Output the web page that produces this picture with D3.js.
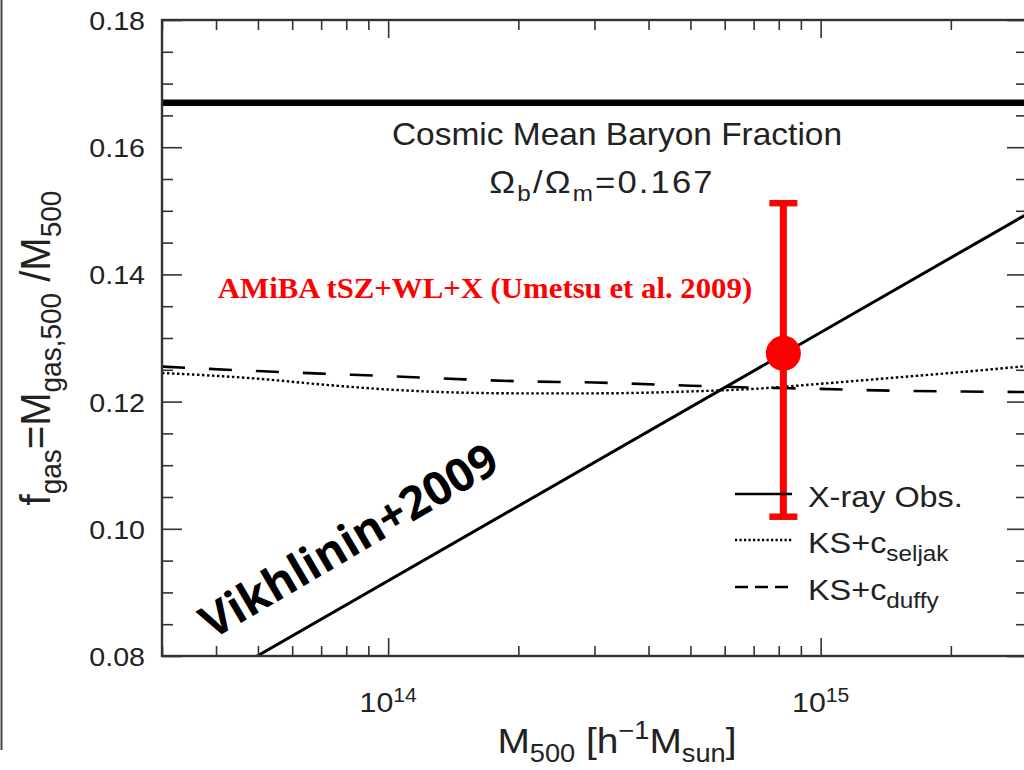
<!DOCTYPE html>
<html>
<head>
<meta charset="utf-8">
<script src="https://cdn.jsdelivr.net/npm/d3@7"></script>
<style>
  body { margin: 0; background: #fff; }
  svg { display: block; }
</style>
</head>
<body>
<svg id="chart" width="1024" height="770"></svg>
<script>
// ---- data -------------------------------------------------------------
// Halo mass grid (h^-1 Msun) for the two KS model curves
const massGrid   = [3e13, 5e13, 7e13, 1e14, 1.5e14, 2e14, 3e14, 5e14, 7e14, 1e15, 1.5e15, 2e15, 3e15];
// KS model with Seljak concentration (dotted)
const fgasSeljak = [0.1245, 0.1236, 0.1227, 0.1219, 0.1214, 0.1213, 0.1213, 0.1216, 0.1220, 0.1228, 0.1238, 0.1245, 0.1256];
// KS model with Duffy concentration (dashed)
const fgasDuffy  = [0.1255, 0.1248, 0.1244, 0.1240, 0.1235, 0.1232, 0.1230, 0.1225, 0.1222, 0.1220, 0.1217, 0.1216, 0.1215];
// X-ray observed relation, Vikhlinin+2009 (straight in log M)
const xrayMass = [4.98e13, 3.0e15];
const xrayFgas = [0.080, 0.1495];
// Cosmic mean baryon fraction
const cosmicFraction = 0.167;
// AMiBA measurement with error bar
const amibaMass = [8.2e14];
const amibaFgas = [0.1276];
const amibaLow  = [0.1019];
const amibaHigh = [0.1512];
// Axes
const xDomain = [3e13, 3e15];
const yDomain = [0.08, 0.18];
const yMajorTicks = [0.08, 0.10, 0.12, 0.14, 0.16, 0.18];
const yTickLabels = ["0.08", "0.10", "0.12", "0.14", "0.16", "0.18"];
const xMajorTicks = [1e14, 1e15];
const xTickExponents = ["14", "15"];
const legendLabels = [
  { main: "X-ray Obs.", sub: "" },
  { main: "KS+c", sub: "seljak" },
  { main: "KS+c", sub: "duffy" }
];

// ---- layout -----------------------------------------------------------
const plotLeft = 162, plotRight = 1027, plotTop = 20, plotBottom = 656;
const SX = 1.08;               // horizontal stretch of the lettering
const ink = "#222";
const sans = "'Liberation Sans', Arial, Helvetica, sans-serif";

const svg = d3.select("#chart");
svg.append("rect").attr("width", 1024).attr("height", 770).attr("fill", "#fff");

const x = d3.scaleLog().domain(xDomain).range([plotLeft, plotRight]);
const y = d3.scaleLinear().domain(yDomain).range([plotBottom, plotTop]);

// left page rule
svg.append("line").attr("x1", 1.5).attr("x2", 1.5).attr("y1", 0).attr("y2", 750)
  .attr("stroke", "#444").attr("stroke-width", 2);

// clip region of the plot
svg.append("clipPath").attr("id", "plotClip")
  .append("rect").attr("x", plotLeft).attr("y", plotTop)
  .attr("width", plotRight - plotLeft).attr("height", plotBottom - plotTop);
const plot = svg.append("g").attr("clip-path", "url(#plotClip)");

// ---- axes ticks -------------------------------------------------------
const xMinor = [];
for (let e = 13; e <= 15; e++) for (let m = 2; m <= 9; m++) {
  const v = m * Math.pow(10, e);
  if (v >= xDomain[0] && v <= xDomain[1]) xMinor.push(v);
}
const yMinor = d3.range(0.08, 0.1801, 0.005).map(v => +v.toFixed(3))
  .filter(v => !yMajorTicks.some(t => Math.abs(t - v) < 1e-9));

function styleAxis(g) {
  g.select(".domain").remove();
  g.selectAll("line").attr("stroke", "#333").attr("stroke-width", 1.6);
  g.selectAll("text").remove();
}
// bottom / top
svg.append("g").attr("transform", `translate(0,${plotBottom})`)
  .call(d3.axisBottom(x).tickValues(xMinor).tickSize(-10).tickSizeOuter(0)).call(styleAxis);
svg.append("g").attr("transform", `translate(0,${plotBottom})`)
  .call(d3.axisBottom(x).tickValues(xMajorTicks).tickSize(-18).tickSizeOuter(0)).call(styleAxis);
svg.append("g").attr("transform", `translate(0,${plotTop})`)
  .call(d3.axisTop(x).tickValues(xMinor).tickSize(-10).tickSizeOuter(0)).call(styleAxis);
svg.append("g").attr("transform", `translate(0,${plotTop})`)
  .call(d3.axisTop(x).tickValues(xMajorTicks).tickSize(-18).tickSizeOuter(0)).call(styleAxis);
// left / right
svg.append("g").attr("transform", `translate(${plotLeft},0)`)
  .call(d3.axisLeft(y).tickValues(yMinor).tickSize(-11).tickSizeOuter(0)).call(styleAxis);
svg.append("g").attr("transform", `translate(${plotLeft},0)`)
  .call(d3.axisLeft(y).tickValues(yMajorTicks).tickSize(-20).tickSizeOuter(0)).call(styleAxis);
svg.append("g").attr("transform", `translate(${plotRight},0)`)
  .call(d3.axisRight(y).tickValues(yMinor).tickSize(-11).tickSizeOuter(0)).call(styleAxis);
svg.append("g").attr("transform", `translate(${plotRight},0)`)
  .call(d3.axisRight(y).tickValues(yMajorTicks).tickSize(-20).tickSizeOuter(0)).call(styleAxis);

// frame
svg.append("rect").attr("x", plotLeft).attr("y", plotTop)
  .attr("width", plotRight - plotLeft).attr("height", plotBottom - plotTop)
  .attr("fill", "none").attr("stroke", "#333").attr("stroke-width", 2.4);

// text helper: stretched label built from [text, shift, scale] pieces
function richText(parent, px, py, anchor, size, pieces, opts = {}) {
  const g = parent.append("g")
    .attr("transform", `translate(${px},${py}) scale(${SX},1)` + (opts.rotate ? ` rotate(${opts.rotate})` : ""));
  const t = g.append("text").attr("text-anchor", anchor)
    .attr("font-family", opts.family || sans).attr("font-size", size)
    .attr("font-weight", opts.weight || "normal")
    .attr("letter-spacing", opts.spacing || 0)
    .attr("fill", opts.fill || ink);
  let cur = 0;
  pieces.forEach(([str, shift, scale]) => {
    const s = scale || 1;
    t.append("tspan").attr("dy", (shift - cur) * size).attr("font-size", size * s).text(str);
    cur = shift;
  });
  return t;
}

// y tick labels
yMajorTicks.forEach((v, i) => {
  richText(svg, 145, y(v) + 10, "end", 26.5, [[yTickLabels[i], 0, 1]]);
});
// x tick labels: 10^n
xMajorTicks.forEach((v, i) => {
  richText(svg, x(v), 712, "middle", 28, [["10", 0, 1], [xTickExponents[i], -0.36, 0.7]]);
});

// axis titles
richText(svg, 617, 753, "middle", 36,
  [["M", 0, 1], ["500", 0.25, 0.7], [" [h", 0, 1], ["\u22121", -0.38, 0.7], ["M", 0, 1], ["sun", 0.25, 0.7], ["]", 0, 1]]);
richText(svg, 50, 348, "middle", 40,
  [["f", 0, 1], ["gas", 0.25, 0.7], ["=M", 0, 1], ["gas,500", 0.25, 0.7], [" /M", 0, 1], ["500", 0.25, 0.7]],
  { rotate: -90 });

// ---- marks ------------------------------------------------------------
// cosmic mean baryon fraction
plot.append("line").attr("x1", plotLeft).attr("x2", plotRight)
  .attr("y1", y(cosmicFraction)).attr("y2", y(cosmicFraction))
  .attr("stroke", "#000").attr("stroke-width", 6.5);

const line = d3.line().x(d => x(d[0])).y(d => y(d[1])).curve(d3.curveMonotoneX);

// KS + c_duffy
plot.append("path").datum(massGrid.map((m, i) => [m, fgasDuffy[i]]))
  .attr("d", line).attr("fill", "none").attr("stroke", "#000")
  .attr("stroke-width", 2.6).attr("stroke-dasharray", "23,24");
// KS + c_seljak
plot.append("path").datum(massGrid.map((m, i) => [m, fgasSeljak[i]]))
  .attr("d", line).attr("fill", "none").attr("stroke", "#000")
  .attr("stroke-width", 2.4).attr("stroke-dasharray", "2.5,2.5");
// X-ray relation
plot.append("path").datum(xrayMass.map((m, i) => [m, xrayFgas[i]]))
  .attr("d", d3.line().x(d => x(d[0])).y(d => y(d[1])))
  .attr("fill", "none").attr("stroke", "#000").attr("stroke-width", 3);

// AMiBA point with error bar
const red = "#ff0000";
amibaMass.forEach((m, i) => {
  const cx = x(m);
  plot.append("line").attr("x1", cx).attr("x2", cx)
    .attr("y1", y(amibaHigh[i])).attr("y2", y(amibaLow[i]))
    .attr("stroke", red).attr("stroke-width", 7);
  [amibaHigh[i], amibaLow[i]].forEach(v => {
    plot.append("line").attr("x1", cx - 14).attr("x2", cx + 14)
      .attr("y1", y(v)).attr("y2", y(v)).attr("stroke", red).attr("stroke-width", 6.5);
  });
  plot.append("circle").attr("cx", cx).attr("cy", y(amibaFgas[i])).attr("r", 17.5).attr("fill", red);
});

// ---- annotations ------------------------------------------------------
richText(svg, 617, 145, "middle", 31, [["Cosmic Mean Baryon Fraction", 0, 1]]);
richText(svg, 602, 193, "middle", 32,
  [["\u03A9", 0, 1], ["b", 0.25, 0.7], ["/\u03A9", 0, 1], ["m", 0.25, 0.7], ["=0.167", 0, 1]],
  { spacing: 2 });
richText(svg, 485, 298, "middle", 28.5, [["AMiBA tSZ+WL+X (Umetsu et al. 2009)", 0, 1]],
  { family: "'Liberation Serif', 'Times New Roman', serif", weight: "bold", fill: red });
svg.append("g").attr("transform", "translate(212,640) rotate(-30.5)")
  .append("text").attr("font-family", "'Open Sans', sans-serif").attr("font-weight", "bold")
  .attr("font-size", 46).attr("fill", "#000").text("Vikhlinin+2009");

// ---- legend -----------------------------------------------------------
const legendY = [494, 540, 587];
const legendDash = [null, "2.2,2.3", "13,7"];
legendLabels.forEach((lab, i) => {
  svg.append("line").attr("x1", 735).attr("x2", 792)
    .attr("y1", legendY[i]).attr("y2", legendY[i])
    .attr("stroke", "#000").attr("stroke-width", i === 0 ? 2.6 : 2.4)
    .attr("stroke-dasharray", legendDash[i]);
  const pieces = [[lab.main, 0, 1]];
  if (lab.sub) pieces.push([lab.sub, 0.28, 0.75]);
  richText(svg, 808, legendY[i] + 13, "start", 30, pieces);
});
</script>
</body>
</html>
